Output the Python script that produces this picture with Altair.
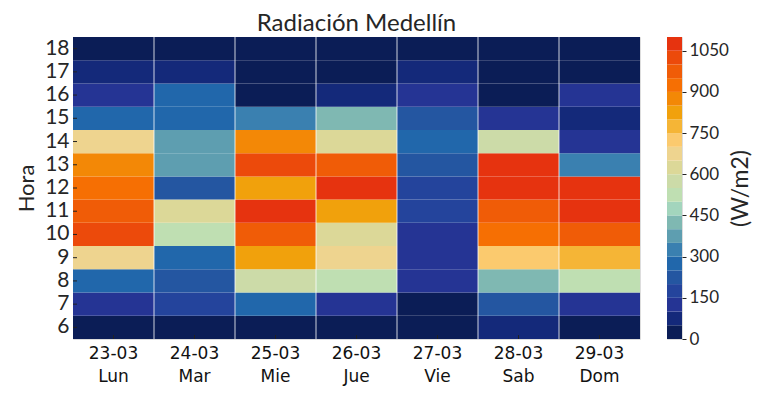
import altair as alt
import pandas as pd

fechas = ["23-03", "24-03", "25-03", "26-03", "27-03", "28-03", "29-03"]
dias = ["Lun", "Mar", "Mie", "Jue", "Vie", "Sab", "Dom"]
horas = [6, 7, 8, 9, 10, 11, 12, 13, 14, 15, 16, 17, 18]

# radiation (W/m2) per day, hours 6..18
lun = [20, 125, 275, 675, 1025, 975, 925, 875, 675, 275, 125, 75, 20]
mar = [20, 175, 225, 275, 525, 625, 225, 375, 375, 275, 275, 75, 20]
mie = [20, 275, 575, 825, 975, 1075, 825, 1025, 875, 325, 20, 20, 20]
jue = [20, 125, 525, 675, 625, 825, 1075, 975, 625, 425, 75, 20, 20]
vie = [20, 20, 125, 125, 125, 175, 175, 225, 275, 225, 125, 75, 20]
sab = [75, 225, 425, 725, 925, 975, 1075, 1075, 575, 125, 20, 20, 20]
dom = [20, 125, 525, 775, 975, 1075, 1075, 325, 125, 75, 125, 20, 20]

colores = [
    "#0b1d56", "#14297a", "#253494", "#24449c", "#2456a1", "#2167ab",
    "#3a80b0", "#5e9eb0", "#7fb8b2", "#a3d5bd", "#bfdfb2", "#ccdba8",
    "#dcd898", "#eed48f", "#fbca6e", "#f5b536", "#f1a10c", "#f38806",
    "#f66f03", "#f05c07", "#ec4a0b", "#e6330f",
]
niveles = list(range(0, 1100, 50))
ticks_cb = [0, 150, 300, 450, 600, 750, 900, 1050]

series = [lun, mar, mie, jue, vie, sab, dom]
keys = [f"{f}|{d}" for f, d in zip(fechas, dias)]
rows = []
for k, vals in zip(keys, series):
    for h, v in zip(horas, vals):
        rows.append({"dia": k, "hora": h, "rad": v})
df = pd.DataFrame(rows)
df_lines = pd.DataFrame({"dia": keys[1:]})
df_days = pd.DataFrame({"dia": keys})
df_hours = pd.DataFrame({"hora": horas})
df_cb = pd.DataFrame({"lo": niveles, "hi": [n + 50 for n in niveles], "mid": [n + 25 for n in niveles]})

color_scale = alt.Scale(type="quantize", domain=[0, 1100], range=colores, nice=False)
FONT = "Lato"
XFONT = "DejaVu Sans"
TXT = "#262626"
W, H = 567, 302

xscale = alt.Scale(domain=keys, paddingInner=0, paddingOuter=0)
yscale = alt.Scale(domain=horas[::-1], paddingInner=0, paddingOuter=0)

xenc = alt.X("dia:N", sort=keys, scale=xscale,
             axis=alt.Axis(title=None, labelExpr="split(datum.label, '|')", labelAngle=0,
                           labelFontSize=17, labelFont=XFONT, labelColor="#111111", ticks=False,
                           domain=False, labelPadding=6, labelLineHeight=23))

heat = alt.Chart(df).mark_rect().encode(
    x=xenc,
    y=alt.Y("hora:O", scale=yscale,
            axis=alt.Axis(title="Hora", titleFontSize=22, titleFont=FONT, titleColor=TXT,
                          titleFontWeight="normal", labelFontSize=21, labelFont=FONT,
                          labelColor=TXT, ticks=False, domain=False, labelPadding=4,
                          titlePadding=6)),
    color=alt.Color("rad:Q", scale=color_scale, legend=None),
)

lines = alt.Chart(df_lines).mark_rule(color="white", strokeWidth=1, opacity=0.8).encode(
    x=alt.X("dia:N", scale=xscale, bandPosition=0),
)

xticks = alt.Chart(df_days).mark_rule(color="#222222", strokeWidth=1).encode(
    x=alt.X("dia:N", scale=xscale, bandPosition=0.5),
    y=alt.value(H), y2=alt.value(H - 4),
)
yticks = alt.Chart(df_hours).mark_rule(color="#222222", strokeWidth=1).encode(
    y=alt.Y("hora:O", scale=yscale, bandPosition=0.5),
    x=alt.value(0), x2=alt.value(4),
)

left = alt.layer(heat, lines, xticks, yticks).properties(
    width=W, height=H,
    title=alt.TitleParams("Radiación Medellín", fontSize=24, font=FONT, color=TXT,
                          fontWeight="normal", offset=1),
)

cb = alt.Chart(df_cb).mark_rect().encode(
    y=alt.Y("lo:Q", scale=alt.Scale(domain=[0, 1100], nice=False, zero=True),
            axis=alt.Axis(orient="right", values=ticks_cb, format="d", title="(W/m2)",
                          titleAngle=270, titleFontSize=23, titleFont=FONT, titleColor=TXT,
                          titleFontWeight="normal", labelFontSize=17, labelFont=FONT,
                          labelColor=TXT, tickSize=4, tickColor="#222222", domain=False,
                          grid=False, labelPadding=3, titlePadding=24)),
    y2="hi:Q",
    color=alt.Color("mid:Q", scale=color_scale, legend=None),
).properties(width=15, height=H)

chart = alt.hconcat(left, cb, spacing=25).properties(
    padding={"left": 7, "top": 3, "right": 5, "bottom": 5}
).configure_view(
    stroke="#cccccc", strokeWidth=1
).configure(background="white")

chart.save("out.html", embed_options={"renderer": "svg", "actions": False})
